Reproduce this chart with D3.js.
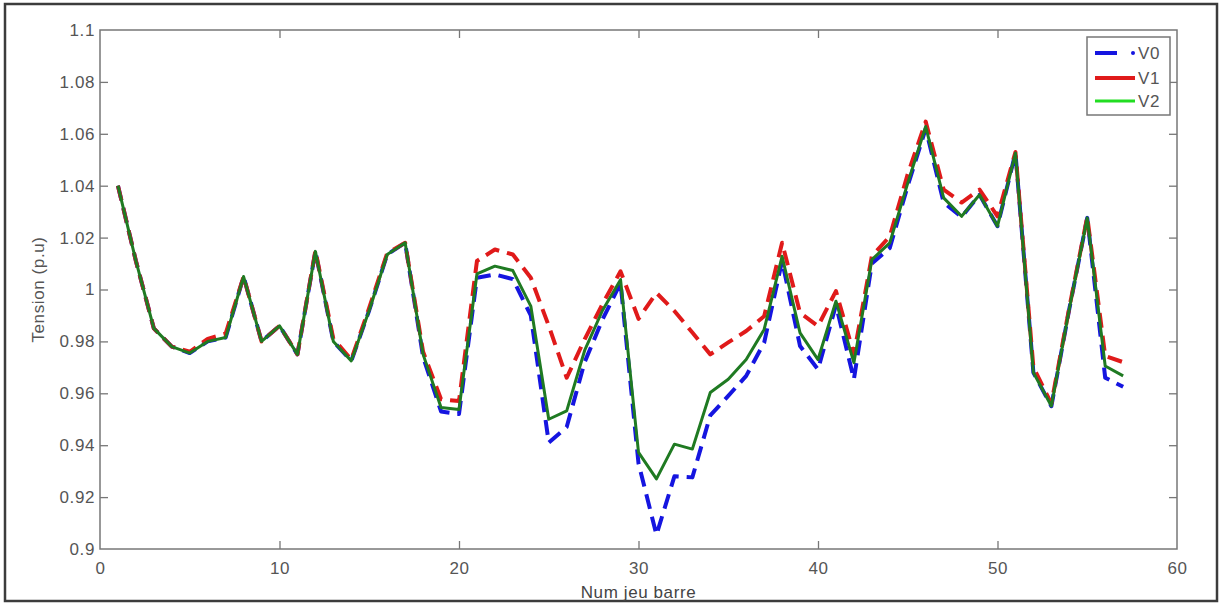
<!DOCTYPE html>
<html>
<head>
<meta charset="utf-8">
<script src="https://cdn.jsdelivr.net/npm/d3@7"></script>
<style>
  html, body { margin: 0; padding: 0; background: #fff; }
  svg { display: block; }
  text { font-family: "Liberation Sans", Arial, sans-serif; }
</style>
</head>
<body>
<svg id="chart" width="1222" height="605"></svg>
<script>
// ---- data ----
const buses = d3.range(1, 58);
const V0 = [1.040, 1.011, 0.985, 0.978, 0.9755, 0.980, 0.9815, 1.005, 0.980, 0.986,
            0.975, 1.0147, 0.980, 0.9725, 0.992, 1.0135, 1.018, 0.974, 0.953, 0.952,
            1.0045, 1.0058, 1.004, 0.990, 0.941, 0.947, 0.972, 0.9885, 1.0025, 0.933,
            0.9055, 0.928, 0.9276, 0.9515, 0.959, 0.9667, 0.9795, 1.011, 0.9782, 0.9692,
            0.994, 0.9654, 1.010, 1.016, 1.040, 1.062, 1.0335, 1.028, 1.0365, 1.0244,
            1.0526, 0.968, 0.955, 0.9925, 1.0276, 0.966, 0.9625];
const V1 = [1.040, 1.011, 0.985, 0.978, 0.976, 0.981, 0.983, 1.005, 0.980, 0.986,
            0.975, 1.015, 0.981, 0.973, 0.993, 1.014, 1.018, 0.976, 0.9577, 0.957,
            1.011, 1.0154, 1.0135, 1.0045, 0.986, 0.966, 0.9808, 0.9945, 1.007, 0.9887,
            0.9987, 0.9917, 0.9834, 0.975, 0.9796, 0.984, 0.9897, 1.018, 0.991, 0.9859,
            0.9994, 0.975, 1.0128, 1.0205, 1.0445, 1.0647, 1.0385, 1.0335, 1.0385, 1.0282,
            1.053, 0.970, 0.956, 0.993, 1.028, 0.9744, 0.972];
const V2 = [1.040, 1.011, 0.985, 0.978, 0.9755, 0.980, 0.9815, 1.005, 0.980, 0.986,
            0.975, 1.0147, 0.980, 0.9725, 0.992, 1.0135, 1.018, 0.975, 0.9545, 0.9538,
            1.006, 1.009, 1.0073, 0.9936, 0.950, 0.9532, 0.9765, 0.992, 1.0038, 0.9372,
            0.927, 0.9404, 0.9385, 0.9603, 0.9654, 0.973, 0.9846, 1.0128, 0.9833, 0.973,
            0.9955, 0.9718, 1.0115, 1.018, 1.041, 1.0628, 1.0353, 1.0282, 1.0365, 1.0244,
            1.0526, 0.968, 0.9551, 0.9925, 1.0276, 0.9705, 0.9667];
const seriesNames = ["V0", "V1", "V2"];
const xTicks = [0, 10, 20, 30, 40, 50, 60];
const yTicks = [0.9, 0.92, 0.94, 0.96, 0.98, 1.0, 1.02, 1.04, 1.06, 1.08, 1.1];
const yTickLabels = ["0.9", "0.92", "0.94", "0.96", "0.98", "1", "1.02", "1.04", "1.06", "1.08", "1.1"];
const xTitle = "Num jeu barre";
const yTitle = "Tension (p.u)";

// ---- layout ----
const svg = d3.select("#chart");
const L = 100, R = 1177, T = 30, B = 549;
const x = d3.scaleLinear().domain([0, 60]).range([L, R]);
const y = d3.scaleLinear().domain([0.9, 1.1]).range([B, T]);
const axisColor = "#777";
const textColor = "#555";
const fs = 17;

// outer frame
svg.append("rect").attr("x", 5).attr("y", 4).attr("width", 1212).attr("height", 597)
  .attr("fill", "#fff").attr("stroke", "#3c3c3c").attr("stroke-width", 2.5);

// plot box
svg.append("rect").attr("x", L).attr("y", T).attr("width", R - L).attr("height", B - T)
  .attr("fill", "#fff").attr("stroke", axisColor).attr("stroke-width", 1.5);

function styleAxis(g) {
  g.select(".domain").remove();
  g.selectAll(".tick line").attr("stroke", axisColor).attr("stroke-width", 1.3);
  g.selectAll(".tick text").attr("fill", textColor).attr("font-size", fs)
    .attr("font-family", "Liberation Sans, Arial, sans-serif").attr("letter-spacing", 0.6);
}

svg.append("g").attr("transform", `translate(0,${B})`)
  .call(d3.axisBottom(x).tickValues(xTicks).tickSize(-8).tickSizeOuter(0).tickPadding(13)
    .tickFormat(d3.format("d")))
  .call(styleAxis);
svg.append("g").attr("transform", `translate(0,${T})`)
  .call(d3.axisTop(x).tickValues(xTicks).tickSize(-8).tickSizeOuter(0).tickFormat(""))
  .call(styleAxis);
svg.append("g").attr("transform", `translate(${L},0)`)
  .call(d3.axisLeft(y).tickValues(yTicks).tickSize(-8).tickSizeOuter(0).tickPadding(5)
    .tickFormat((d, i) => yTickLabels[i]))
  .call(styleAxis);
svg.append("g").attr("transform", `translate(${R},0)`)
  .call(d3.axisRight(y).tickValues(yTicks).tickSize(-8).tickSizeOuter(0).tickFormat(""))
  .call(styleAxis);

// hide ticks lying on the box corners
svg.selectAll(".tick").filter(d => d === 0 || d === 60 || d === 0.9 || d === 1.1)
  .select("line").attr("stroke-opacity", 0);

// titles
svg.append("text").attr("x", (L + R) / 2).attr("y", 598).attr("text-anchor", "middle")
  .attr("font-size", fs).attr("letter-spacing", 0.6).attr("fill", "#444").text(xTitle);
svg.append("text").attr("transform", `translate(44,${(T + B) / 2}) rotate(-90)`)
  .attr("text-anchor", "middle").attr("font-size", fs).attr("letter-spacing", 0.6)
  .attr("fill", textColor).text(yTitle);

// ---- lines ----
const line = d3.line().x((d, i) => x(buses[i])).y(d => y(d));
const g = svg.append("g");
g.append("path").datum(V0).attr("d", line).attr("fill", "none")
  .attr("stroke", "#1515e0").attr("stroke-width", 4).attr("stroke-dasharray", "15,8")
  .attr("stroke-linejoin", "round");
g.append("path").datum(V1).attr("d", line).attr("fill", "none")
  .attr("stroke", "#e01a1a").attr("stroke-width", 4).attr("stroke-dasharray", "15,8")
  .attr("stroke-linejoin", "round");
g.append("path").datum(V2).attr("d", line).attr("fill", "none")
  .attr("stroke", "#1f7a22").attr("stroke-width", 3)
  .attr("stroke-linejoin", "round");

// ---- legend ----
const lg = svg.append("g");
lg.append("rect").attr("x", 1087).attr("y", 37).attr("width", 83).attr("height", 78)
  .attr("fill", "#fff").attr("stroke", axisColor).attr("stroke-width", 1.5);
const rows = [53, 78, 101];
// V0: dash + dot
lg.append("line").attr("x1", 1095).attr("x2", 1117).attr("y1", rows[0]).attr("y2", rows[0])
  .attr("stroke", "#1515e0").attr("stroke-width", 4);
lg.append("circle").attr("cx", 1133).attr("cy", rows[0]).attr("r", 2).attr("fill", "#1515e0");
lg.append("line").attr("x1", 1095).attr("x2", 1135).attr("y1", rows[1]).attr("y2", rows[1])
  .attr("stroke", "#e01a1a").attr("stroke-width", 4);
lg.append("line").attr("x1", 1095).attr("x2", 1135).attr("y1", rows[2]).attr("y2", rows[2])
  .attr("stroke", "#22dd22").attr("stroke-width", 3);
seriesNames.forEach((n, i) => {
  lg.append("text").attr("x", 1138).attr("y", rows[i]).attr("dy", "0.36em")
    .attr("font-size", fs).attr("letter-spacing", 0.6).attr("fill", textColor).text(n);
});
</script>
</body>
</html>
